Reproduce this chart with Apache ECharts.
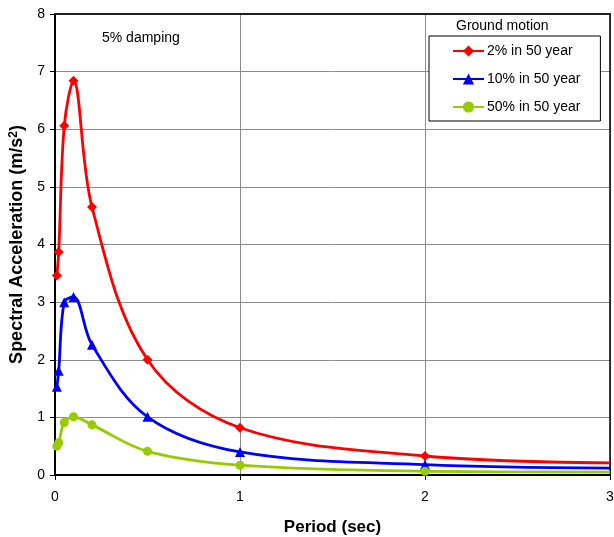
<!DOCTYPE html>
<html><head><meta charset="utf-8">
<script src="https://cdn.jsdelivr.net/npm/echarts@6/dist/echarts.min.js"></script>
<style>html,body{margin:0;padding:0;background:#fff}#c{width:614px;height:537px}</style>
</head><body><div id="c"></div>
<script>
const periods = [0.01, 0.02, 0.05, 0.1, 0.2, 0.5, 1, 2, 3];
const sa2in50 = [3.46, 3.87, 6.06, 6.84, 4.65, 2.0, 0.82, 0.33, 0.21];
const sa10in50 = [1.53, 1.81, 3.0, 3.09, 2.26, 1.01, 0.40, 0.18, 0.12];
const sa50in50 = [0.50, 0.56, 0.91, 1.01, 0.87, 0.41, 0.17, 0.065, 0.05];
const seriesNames = ['2% in 50 year', '10% in 50 year', '50% in 50 year'];
const legendTitle = 'Ground motion';
const noteText = '5% damping';
const xName = 'Period (sec)';
const xMin = 0, xMax = 3, xStep = 1;
const yMin = 0, yMax = 8, yStep = 1;

const FONT = '"Liberation Sans", Arial, sans-serif';
const pairs = ys => periods.map((p, i) => [p, ys[i]]);
const hideAtEdge = size => (v => (v[0] >= xMax ? 0 : size));

function mkSeries(name, ys, color, symbol, size) {
  return {
    name, type: 'line', data: pairs(ys), smooth: 0.35,
    symbol, symbolSize: hideAtEdge(size), showAllSymbol: true,
    clip: false,
    lineStyle: { color, width: 2.8 },
    itemStyle: { color },
    z: 5
  };
}

const chart = echarts.init(document.getElementById('c'), null, { renderer: 'canvas' });
chart.setOption({
  animation: false,
  backgroundColor: '#fff',
  textStyle: { fontFamily: FONT },
  grid: { left: 55, right: 4, top: 14, bottom: 62, containLabel: false, outerBoundsMode: 'none' },
  xAxis: [{
    type: 'value', min: xMin, max: xMax, interval: xStep,
    name: xName, nameLocation: 'middle', nameGap: 44,
    nameTextStyle: { fontFamily: FONT, fontSize: 17, fontWeight: 'bold', color: '#000' },
    axisLine: { show: true, onZero: false, lineStyle: { color: '#000', width: 2 } },
    axisTick: { show: true, length: 5, lineStyle: { color: '#000', width: 1 } },
    axisLabel: { fontFamily: FONT, fontSize: 14, color: '#000', margin: 15 },
    splitLine: { show: true, lineStyle: { color: '#8c8c8c', width: 1 } }
  }, {
    type: 'value', min: xMin, max: xMax, interval: xStep, position: 'top',
    axisLine: { show: true, onZero: false, lineStyle: { color: '#222', width: 2 } },
    axisTick: { show: false }, axisLabel: { show: false }, splitLine: { show: false }
  }],
  yAxis: [{
    type: 'value', min: yMin, max: yMax, interval: yStep,
    name: '{t|Spectral Acceleration (m/s}{s|2}{t|)}', nameLocation: 'middle', nameGap: 27,
    nameTextStyle: {
      rich: {
        t: { fontFamily: FONT, fontSize: 18, fontWeight: 'bold', color: '#000' },
        s: { fontFamily: FONT, fontSize: 12, fontWeight: 'bold', color: '#000', verticalAlign: 'top', padding: [0, 0, 8, 0] }
      }
    },
    axisLine: { show: true, onZero: false, lineStyle: { color: '#000', width: 2 } },
    axisTick: { show: true, length: 5, lineStyle: { color: '#000', width: 1 } },
    axisLabel: { fontFamily: FONT, fontSize: 14, color: '#000', margin: 10 },
    splitLine: { show: true, lineStyle: { color: '#8c8c8c', width: 1 } }
  }, {
    type: 'value', min: yMin, max: yMax, interval: yStep, position: 'right',
    axisLine: { show: true, onZero: false, lineStyle: { color: '#000', width: 1.5 } },
    axisTick: { show: false }, axisLabel: { show: false }, splitLine: { show: false }
  }],
  legend: {
    orient: 'vertical', left: 429, top: 36,
    padding: [8, 20, 7, 23], itemGap: 14, itemWidth: 31, itemHeight: 14,
    backgroundColor: '#fff', borderColor: '#000', borderWidth: 1,
    textStyle: { fontFamily: FONT, fontSize: 14, color: '#000', padding: [0, 0, 0, -2] },
    data: seriesNames
  },
  graphic: [
    { type: 'text', left: 456, top: 19, style: { text: legendTitle, font: '14px ' + FONT, fill: '#000' } },
    { type: 'text', left: 102, top: 31, style: { text: noteText, font: '14px ' + FONT, fill: '#000' } }
  ],
  series: [
    mkSeries(seriesNames[0], sa2in50, '#ff0000', 'diamond', 10),
    mkSeries(seriesNames[1], sa10in50, '#0000ff', 'triangle', 10),
    mkSeries(seriesNames[2], sa50in50, '#99cc00', 'circle', 9)
  ]
});
</script></body></html>
